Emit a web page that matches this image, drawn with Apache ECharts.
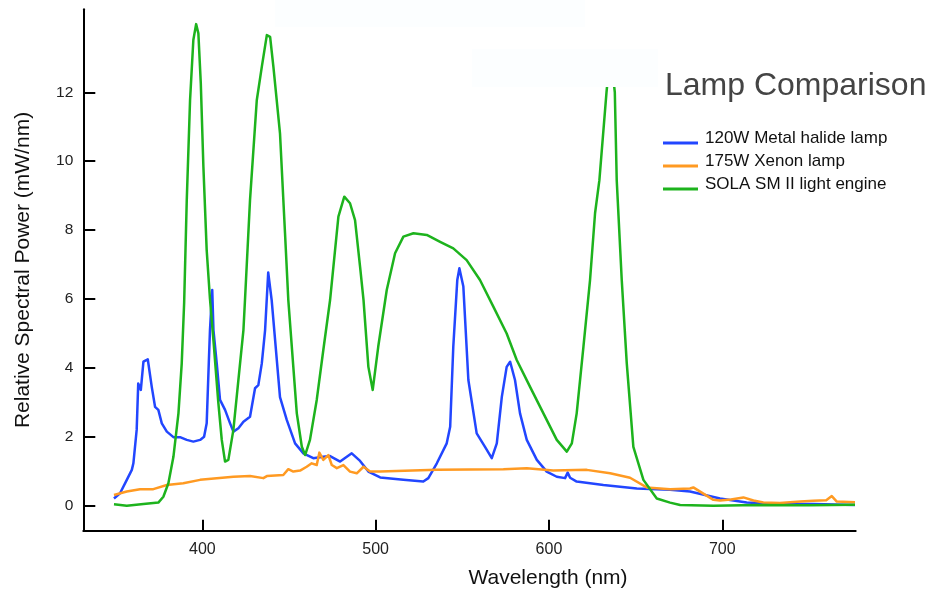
<!DOCTYPE html>
<html>
<head>
<meta charset="utf-8">
<script src="https://cdn.jsdelivr.net/npm/echarts@6/dist/echarts.min.js"></script>
<style>html,body{margin:0;padding:0;background:#fff}#c{width:930px;height:591px}</style>
</head>
<body>
<div id="c"></div>
<script>
const FONT = '"Liberation Sans", Arial, Helvetica, sans-serif';

const seriesNames = ['120W Metal halide lamp', '175W Xenon lamp', 'SOLA SM II light engine'];
const xTicks = [400, 500, 600, 700];
const yTicks = [0, 2, 4, 6, 8, 10, 12];

const halideNm = [349, 352.5, 356.4, 359.3, 360.2, 362.1, 363, 364.5, 366, 368.5, 370.8, 372.7, 374.6, 376.6, 379.5, 383.3, 387.1, 391, 394.8, 398.7, 401, 402.5, 403.7, 404.4, 405.7, 406.4, 408.3, 410.2, 413.1, 416, 417.9, 420.8, 423.7, 427.5, 430.4, 432.3, 434.3, 436.2, 438, 440, 444.8, 448.7, 453.5, 458.3, 464, 469.8, 473.7, 479.5, 486.2, 491, 495.8, 502.6, 516, 527.5, 530.4, 535.3, 541, 543, 544.8, 547.1, 548.3, 550.6, 553.5, 558.3, 563.1, 567, 569.9, 572.8, 575.6, 577.6, 580.4, 583.3, 587.2, 593, 598.7, 604.5, 609.3, 610.8, 612.2, 616, 631.4, 650.7, 669.9, 681.4, 698.7, 714.1, 733.3, 752.6, 776.6];
const halidePower = [0.21, 0.36, 0.75, 1.04, 1.23, 2.2, 3.55, 3.36, 4.18, 4.25, 3.45, 2.87, 2.78, 2.39, 2.15, 1.99, 1.99, 1.91, 1.86, 1.91, 2.0, 2.39, 4.13, 5.1, 6.26, 5.1, 4.13, 3.07, 2.78, 2.39, 2.15, 2.25, 2.44, 2.58, 3.41, 3.5, 4.13, 5.1, 6.77, 5.97, 3.15, 2.49, 1.81, 1.52, 1.38, 1.42, 1.44, 1.28, 1.52, 1.3, 0.99, 0.82, 0.75, 0.7, 0.8, 1.23, 1.81, 2.29, 4.62, 6.55, 6.89, 6.36, 3.65, 2.1, 1.71, 1.38, 1.81, 3.16, 4.03, 4.18, 3.65, 2.68, 1.91, 1.33, 0.99, 0.84, 0.8, 0.96, 0.81, 0.7, 0.6, 0.5, 0.46, 0.41, 0.21, 0.09, 0.05, 0.05, 0.02];

const xenonNm = [349, 356.4, 364, 371.7, 379.5, 389, 398.7, 408.3, 417.9, 427.5, 435.2, 437.2, 446.7, 449.6, 452.5, 456.4, 460.2, 463.1, 466, 467.5, 469.8, 472.7, 474.7, 477.6, 481.4, 485.2, 489.1, 493, 496.8, 502.6, 535.3, 573.7, 587.2, 602.5, 621.8, 635.3, 646.8, 656.4, 669.9, 681.4, 683.3, 694.9, 698.7, 705, 712.2, 718, 723.7, 733.3, 745, 752.6, 760, 763.2, 766.1, 776.6];
const xenonPower = [0.31, 0.41, 0.48, 0.48, 0.6, 0.65, 0.75, 0.8, 0.84, 0.86, 0.8, 0.86, 0.89, 1.06, 0.99, 1.02, 1.13, 1.23, 1.18, 1.54, 1.33, 1.47, 1.18, 1.09, 1.18, 0.99, 0.94, 1.13, 0.99, 0.99, 1.04, 1.06, 1.09, 1.02, 1.04, 0.94, 0.81, 0.53, 0.48, 0.5, 0.53, 0.17, 0.15, 0.18, 0.24, 0.15, 0.09, 0.08, 0.12, 0.14, 0.16, 0.28, 0.12, 0.1];

const solaNm = [349, 356.4, 366, 374.6, 377.5, 380.4, 383.3, 386.2, 388.1, 389.5, 391, 392.9, 394.8, 396.4, 397.7, 399.1, 400.6, 402.5, 404.4, 406.4, 409.2, 411.2, 413.1, 415, 417.9, 420.8, 423.7, 424.6, 427.5, 431.4, 434.3, 437.2, 439.1, 441, 444.8, 447.7, 449.6, 454.5, 457.4, 459.3, 462.1, 466, 469.8, 473.7, 478.5, 481.9, 485.2, 488.1, 491, 493, 495.8, 498.3, 501.5, 506.4, 511.2, 516, 521.8, 529.5, 537.2, 544.8, 552.5, 560.2, 567.9, 575.6, 581.4, 589.1, 596.8, 604.5, 610.3, 613.2, 616, 619.9, 623.7, 626.6, 629.1, 633.2, 635.5, 638, 639.1, 642, 644.9, 648.7, 654.5, 662.2, 669.9, 675.7, 694.9, 720, 750, 776.6];
const solaPower = [0.04, 0.0, 0.05, 0.09, 0.26, 0.65, 1.42, 2.68, 4.13, 5.9, 8.87, 11.77, 13.52, 13.98, 13.71, 12.26, 9.84, 7.42, 6.0, 4.8, 3.0, 1.91, 1.28, 1.33, 2.2, 3.65, 5.1, 5.97, 8.87, 11.77, 12.74, 13.66, 13.61, 12.74, 10.81, 7.91, 5.97, 2.68, 1.71, 1.47, 1.91, 3.07, 4.52, 5.97, 8.39, 8.97, 8.78, 8.29, 6.94, 5.97, 4.03, 3.36, 4.62, 6.26, 7.33, 7.81, 7.91, 7.86, 7.66, 7.47, 7.13, 6.55, 5.78, 5.0, 4.23, 3.45, 2.68, 1.91, 1.57, 1.81, 2.68, 4.62, 6.55, 8.49, 9.45, 12.0, 13.2, 12.0, 9.45, 6.55, 4.13, 1.71, 0.75, 0.21, 0.09, 0.02, 0.0, 0.02, 0.01, 0.03];

const colors = ['#2246ff', '#ff9a22', '#1db31d'];

function pairs(xs, ys) { return xs.map((x, i) => [x, ys[i]]); }

const chart = echarts.init(document.getElementById('c'), null, { renderer: 'canvas' });

const legendIcon = 'path://M0,0L0.01,0L0,0.01Z M0,13.5L35,13.5L35,16.5L0,16.5Z M35,20L34.99,20L35,19.99Z';

function lineSeries(name, data, color) {
  return {
    name: name, type: 'line', data: data, symbol: 'none', smooth: false,
    lineStyle: { color: color, width: 2.5, join: 'round' }, itemStyle: { color: color },
    emphasis: { disabled: true }
  };
}

chart.setOption({
  animation: false,
  backgroundColor: '#ffffff',
  color: colors,
  title: {
    text: 'Lamp Comparison', left: 665, top: 70, padding: 0,
    textStyle: { fontFamily: FONT, fontSize: 32, fontWeight: 'normal', color: '#444444' }
  },
  legend: {
    orient: 'vertical', left: 663, top: 128, padding: 0,
    itemWidth: 35, itemHeight: 20, itemGap: 3,
    icon: legendIcon,
    itemStyle: { borderWidth: 0 },
    data: seriesNames,
    textStyle: { fontFamily: FONT, fontSize: 17, color: '#111111', padding: [0, 0, 0, 2] }
  },
  grid: { left: 83.3, right: 74.3, top: 9.3, bottom: 60.3, containLabel: false, outerBoundsMode: 'none' },
  xAxis: {
    type: 'value', min: 331.3, max: 777,
    name: 'Wavelength (nm)', nameLocation: 'middle', nameGap: 37, nameMoveOverlap: false,
    nameTextStyle: { fontFamily: FONT, fontSize: 21, color: '#111111', padding: [0, 0, 0, 157] },
    axisLine: { onZero: false, lineStyle: { color: '#000', width: 2 } },
    axisTick: { inside: true, length: 11, customValues: xTicks, lineStyle: { color: '#000', width: 2 } },
    axisLabel: { customValues: xTicks, margin: 11, fontFamily: FONT, fontSize: 16, color: '#222222' },
    splitLine: { show: false }
  },
  yAxis: {
    type: 'value', min: -0.726, max: 14.41,
    name: 'Relative Spectral Power (mW/nm)', nameLocation: 'middle', nameGap: 50, nameMoveOverlap: false,
    nameTextStyle: { fontFamily: FONT, fontSize: 21, color: '#111111' },
    axisLine: { onZero: false, lineStyle: { color: '#000', width: 2 } },
    axisTick: { inside: true, length: 12, customValues: yTicks, lineStyle: { color: '#000', width: 2 } },
    axisLabel: { customValues: yTicks, margin: 10, fontFamily: FONT, fontSize: 15.5, color: '#222222' },
    splitLine: { show: false }
  },
  graphic: [
    { type: 'rect', z: 100, shape: { x: 275, y: 0, width: 310, height: 27 }, style: { fill: '#fcfeff' } },
    { type: 'rect', z: 100, shape: { x: 472, y: 49, width: 186, height: 38 }, style: { fill: '#fcfeff' } }
  ],
  series: [
    lineSeries(seriesNames[0], pairs(halideNm, halidePower), colors[0]),
    lineSeries(seriesNames[1], pairs(xenonNm, xenonPower), colors[1]),
    lineSeries(seriesNames[2], pairs(solaNm, solaPower), colors[2])
  ]
});
</script>
</body>
</html>
